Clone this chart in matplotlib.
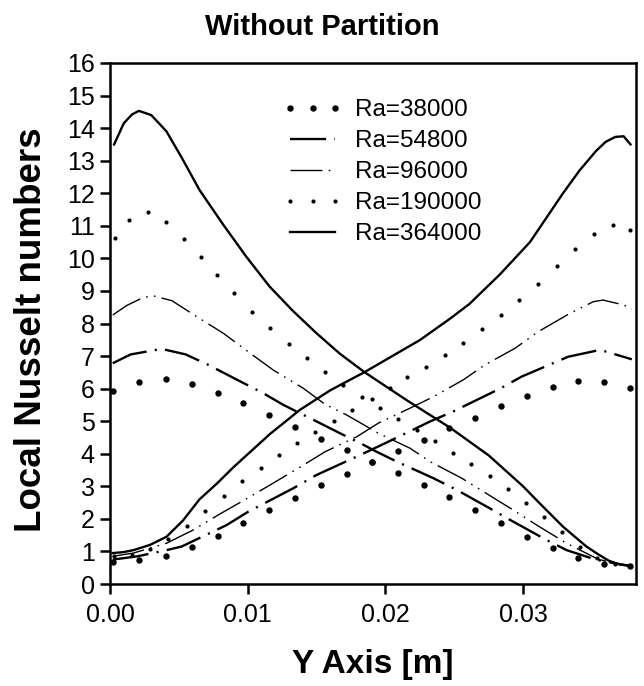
import matplotlib
matplotlib.use("Agg")
import matplotlib.pyplot as plt

plt.rcParams['font.family'] = ['Liberation Sans', 'DejaVu Sans']
plt.rcParams['lines.scale_dashes'] = False

# ---- data ----
ra_labels = ["Ra=38000", "Ra=54800", "Ra=96000", "Ra=190000", "Ra=364000"]

# Ra=38000 (large dots)
x1 = [0.00024, 0.00213, 0.00407, 0.00593, 0.00782, 0.00968, 0.01157, 0.01346, 0.0153, 0.01719,
      0.01905, 0.02094, 0.0228, 0.02464, 0.02651, 0.0284, 0.03026, 0.03215, 0.03401, 0.03588, 0.0378]
d1 = [5.94, 6.21, 6.30, 6.15, 5.88, 5.55, 5.19, 4.81, 4.45, 4.10,
      3.74, 3.40, 3.03, 2.66, 2.27, 1.86, 1.45, 1.10, 0.81, 0.61, 0.56]
a1 = [0.69, 0.74, 0.86, 1.13, 1.46, 1.86, 2.26, 2.65, 3.03, 3.39,
      3.74, 4.08, 4.43, 4.78, 5.11, 5.47, 5.78, 6.06, 6.24, 6.21, 6.03]

# Ra=54800 (long dash - dot)
xd2 = [0.0002, 0.0015, 0.00375, 0.0055, 0.00714, 0.0091, 0.01113, 0.01259, 0.01525, 0.0167, 0.0182,
       0.01937, 0.02082, 0.02348, 0.02518, 0.0276, 0.02905, 0.03171, 0.03316, 0.03534, 0.0378]
d2 = [6.78, 7.05, 7.22, 7.05, 6.73, 6.30, 5.86, 5.50, 4.94, 4.63, 4.32,
      4.06, 3.76, 3.25, 2.89, 2.32, 1.97, 1.35, 1.04, 0.74, 0.55]
xa2 = [0.0002, 0.002, 0.0041, 0.0052, 0.00847, 0.01004, 0.01331, 0.01501, 0.01816, 0.01997,
       0.02324, 0.02493, 0.02832, 0.0299, 0.03328, 0.0356, 0.0379]
a2 = [0.75, 0.85, 1.04, 1.15, 1.81, 2.22, 2.94, 3.35, 3.96, 4.32,
      4.99, 5.30, 6.00, 6.37, 6.98, 7.19, 6.90]

# Ra=96000 (long dash - dot - dot)
xd3 = [0.0002, 0.0012, 0.00242, 0.00314, 0.0045, 0.0063, 0.00823, 0.01017, 0.01186, 0.01404, 0.01561,
       0.01719, 0.01949, 0.02179, 0.02324, 0.02554, 0.02711, 0.02929, 0.03099, 0.03316, 0.0355, 0.0378]
d3 = [8.26, 8.55, 8.80, 8.85, 8.70, 8.21, 7.70, 7.09, 6.57, 6.01, 5.52,
      5.19, 4.63, 4.17, 3.76, 3.25, 2.84, 2.27, 1.81, 1.25, 0.75, 0.55]
xa3 = [0.0002, 0.0017, 0.0041, 0.006, 0.00786, 0.01017, 0.01174, 0.01404, 0.01561, 0.01791, 0.01949,
       0.02179, 0.02348, 0.02566, 0.02723, 0.02942, 0.0311, 0.0334, 0.0351, 0.0358, 0.0373, 0.0379]
a3 = [0.85, 0.95, 1.25, 1.65, 2.12, 2.68, 3.07, 3.65, 4.06, 4.52, 4.94,
      5.40, 5.75, 6.27, 6.73, 7.24, 7.75, 8.31, 8.67, 8.72, 8.57, 8.45]

# Ra=190000 (small dots)
xd4 = [0.00036, 0.0014, 0.00274, 0.0041, 0.0054, 0.0066, 0.0078, 0.009, 0.0103, 0.0116, 0.013, 0.0143,
       0.0156, 0.0169, 0.0183, 0.0196, 0.0209, 0.0223, 0.0236, 0.0249, 0.0262, 0.0276, 0.0289, 0.0302,
       0.0315, 0.0328, 0.0341, 0.0354, 0.0367, 0.0378]
d4 = [10.62, 11.19, 11.41, 11.12, 10.60, 10.04, 9.49, 8.93, 8.36, 7.85, 7.37, 6.93,
      6.51, 6.12, 5.75, 5.39, 5.06, 4.73, 4.39, 4.03, 3.69, 3.31, 2.92, 2.50,
      2.07, 1.60, 1.15, 0.80, 0.60, 0.55]
xa4 = [0.0003, 0.0016, 0.0029, 0.00424, 0.00557, 0.00692, 0.00826, 0.00959, 0.01094, 0.01227, 0.0136,
       0.0149, 0.0163, 0.0176, 0.019, 0.0203, 0.0216, 0.02295, 0.0243, 0.02566, 0.027, 0.02837,
       0.02973, 0.03106, 0.03244, 0.03379, 0.03515, 0.0365, 0.0378]
a4 = [0.85, 0.89, 1.07, 1.38, 1.78, 2.25, 2.70, 3.15, 3.57, 3.97, 4.33,
      4.66, 5.00, 5.33, 5.68, 6.01, 6.35, 6.67, 7.04, 7.41, 7.82, 8.25,
      8.72, 9.22, 9.76, 10.29, 10.75, 11.03, 10.87]

# Ra=364000 (solid)
xd5 = [0.0003, 0.0010, 0.0016, 0.0021, 0.0030, 0.0041, 0.0052, 0.0065, 0.0082, 0.0099, 0.0116,
       0.0133, 0.015, 0.0167, 0.0185, 0.0216, 0.0247, 0.0275, 0.030, 0.0312, 0.0329, 0.0346,
       0.0355, 0.0362, 0.0370, 0.0378]
d5 = [13.5, 14.15, 14.42, 14.53, 14.4, 13.9, 13.1, 12.1, 11.05, 10.05, 9.13,
      8.38, 7.7, 7.07, 6.5, 5.63, 4.8, 3.95, 3.0, 2.48, 1.76, 1.15,
      0.9, 0.72, 0.6, 0.56]
xa5 = [0.0002, 0.0010, 0.0017, 0.0029, 0.0041, 0.0053, 0.0065, 0.0078, 0.009, 0.0103, 0.0116,
       0.0138, 0.016, 0.0185, 0.0205, 0.0225, 0.0247, 0.0261, 0.0283, 0.0305, 0.0317, 0.0329,
       0.0341, 0.0353, 0.0360, 0.0367, 0.0373, 0.0378]
a5 = [0.95, 0.98, 1.04, 1.2, 1.45, 1.95, 2.6, 3.1, 3.6, 4.1, 4.6,
      5.35, 5.95, 6.51, 7.0, 7.49, 8.15, 8.6, 9.5, 10.5, 11.25, 12.0,
      12.7, 13.3, 13.58, 13.73, 13.75, 13.5]

xticks = [0.00, 0.01, 0.02, 0.03]
xticklabels = ["0.00", "0.01", "0.02", "0.03"]
yticks = list(range(0, 17))

# ---- figure ----
fig = plt.figure(figsize=(6.44, 6.86), dpi=100)
ax = fig.add_axes([110 / 644, 102 / 686, 526 / 644, 521 / 686])

dot_big = dict(linestyle='none', marker='o', markersize=4.6, color='black', markeredgewidth=0)
dot_small = dict(linestyle='none', marker='o', markersize=3.0, color='black', markeredgewidth=0)
style2 = dict(color='black', lw=1.7, linestyle=(0, (26, 6, 1.5, 6)))
style3 = dict(color='black', lw=1.0, linestyle=(0, (23, 4.5, 1.2, 4.5, 1.2, 4.5)))
style5 = dict(color='black', lw=1.7, linestyle='-')

ax.plot(x1, d1, label=ra_labels[0], **dot_big)
ax.plot(x1, a1, **dot_big)
ax.plot(xd2, d2, label=ra_labels[1], **style2)
ax.plot(xa2, a2, **style2)
ax.plot(xd3, d3, label=ra_labels[2], **style3)
ax.plot(xa3, a3, **style3)
ax.plot(xd4, d4, label=ra_labels[3], **dot_small)
ax.plot(xa4, a4, **dot_small)
ax.plot(xd5, d5, label=ra_labels[4], **style5)
ax.plot(xa5, a5, **style5)

ax.set_xlim(0, 0.0382)
ax.set_ylim(0, 16)
ax.set_xticks(xticks)
ax.set_xticklabels(xticklabels)
ax.set_yticks(yticks)
ax.tick_params(direction='out', length=7, width=1.8, labelsize=18,
               top=False, right=False)
ax.tick_params(axis='x', pad=7)
ax.tick_params(axis='y', pad=4)
for s in ax.spines.values():
    s.set_linewidth(1.8)

fig.text(373 / 644, 1 - 665 / 686, "Y Axis [m]", ha='center', va='center',
         fontsize=24, fontweight='bold')
fig.text(32 / 644, 1 - 330 / 686, "Local Nusselt numbers", ha='center', va='center',
         rotation=90, fontsize=26.5, fontweight='bold')
fig.text(322 / 644, 1 - 27 / 686, "Without Partition", ha='center', va='center',
         fontsize=21, fontweight='bold')

ax.legend(loc='upper left', bbox_to_anchor=(283 / 644, 1 - 99 / 686),
          bbox_transform=fig.transFigure, frameon=False, fontsize=17.5,
          numpoints=3, handlelength=2.45, handletextpad=0.5, labelspacing=0.37,
          borderaxespad=0, borderpad=0)

fig.savefig("out.png", dpi=100)
